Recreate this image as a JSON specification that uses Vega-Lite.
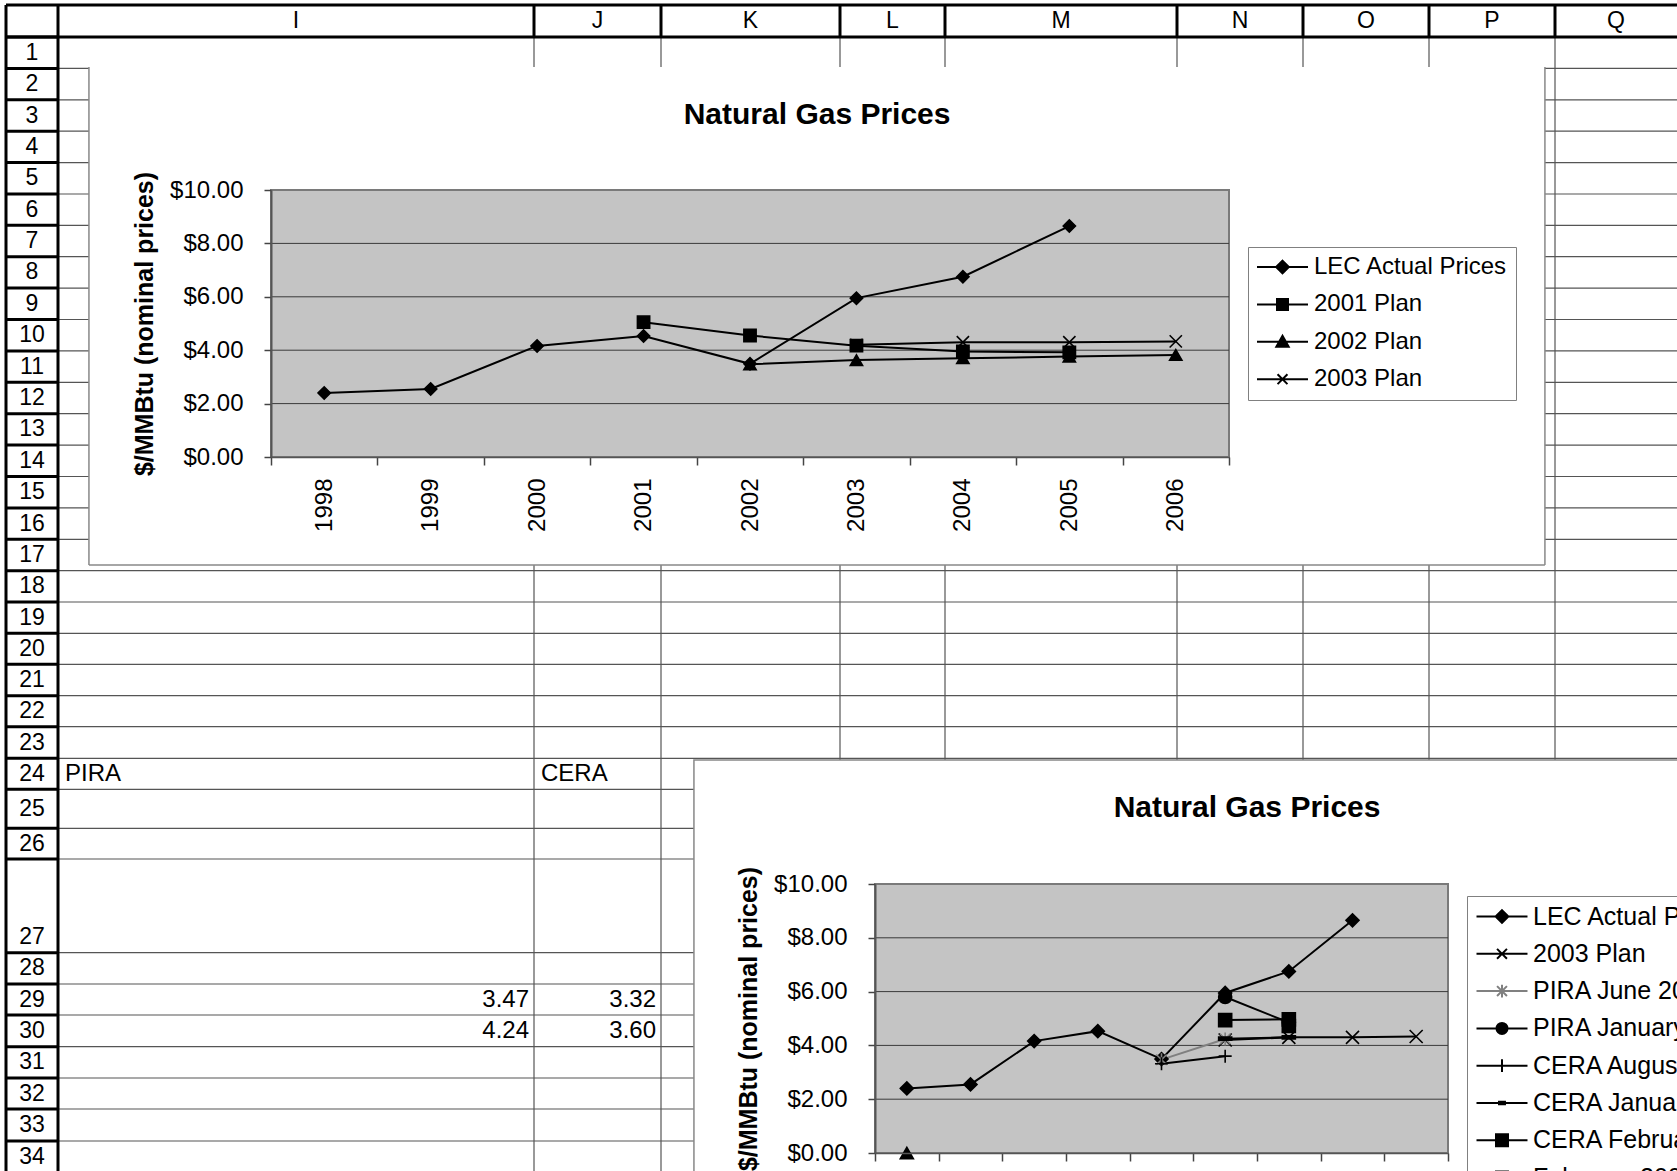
{
"$schema": "https://vega.github.io/schema/vega-lite/v6.json",
"width": 1677, "height": 1171, "padding": 0, "autosize": {"type": "none"},
"background": "white",
"config": {"view": {"stroke": null}, "font": "Liberation Sans"},
"datasets": {
 "sheetCols": [{"col":9,"letter":"I"},{"col":10,"letter":"J"},{"col":11,"letter":"K"},{"col":12,"letter":"L"},{"col":13,"letter":"M"},{"col":14,"letter":"N"},{"col":15,"letter":"O"},{"col":16,"letter":"P"},{"col":17,"letter":"Q"}],
 "sheetRows": [{"row":1},{"row":2},{"row":3},{"row":4},{"row":5},{"row":6},{"row":7},{"row":8},{"row":9},{"row":10},{"row":11},{"row":12},{"row":13},{"row":14},{"row":15},{"row":16},{"row":17},{"row":18},{"row":19},{"row":20},{"row":21},{"row":22},{"row":23},{"row":24},{"row":25},{"row":26},{"row":27},{"row":28},{"row":29},{"row":30},{"row":31},{"row":32},{"row":33},{"row":34}],
 "cellText": [{"col":9,"row":24,"text":"PIRA"},{"col":10,"row":24,"text":"CERA"}],
 "cellNumbers": [{"col":9,"row":29,"value":3.47},{"col":10,"row":29,"value":3.32},{"col":9,"row":30,"value":4.24},{"col":10,"row":30,"value":3.6}],
 "gridLevels": [{"level":2},{"level":4},{"level":6},{"level":8}],
 "prices": [
  {"chart":"top","series":"LEC Actual Prices","year":1998,"price":2.4},
  {"chart":"top","series":"LEC Actual Prices","year":1999,"price":2.55},
  {"chart":"top","series":"LEC Actual Prices","year":2000,"price":4.16},
  {"chart":"top","series":"LEC Actual Prices","year":2001,"price":4.53},
  {"chart":"top","series":"LEC Actual Prices","year":2002,"price":3.49},
  {"chart":"top","series":"LEC Actual Prices","year":2003,"price":5.95},
  {"chart":"top","series":"LEC Actual Prices","year":2004,"price":6.75},
  {"chart":"top","series":"LEC Actual Prices","year":2005,"price":8.65},
  {"chart":"top","series":"2001 Plan","year":2001,"price":5.05},
  {"chart":"top","series":"2001 Plan","year":2002,"price":4.55},
  {"chart":"top","series":"2001 Plan","year":2003,"price":4.17},
  {"chart":"top","series":"2001 Plan","year":2004,"price":3.95},
  {"chart":"top","series":"2001 Plan","year":2005,"price":3.92},
  {"chart":"top","series":"2002 Plan","year":2002,"price":3.47},
  {"chart":"top","series":"2002 Plan","year":2003,"price":3.63},
  {"chart":"top","series":"2002 Plan","year":2004,"price":3.7},
  {"chart":"top","series":"2002 Plan","year":2005,"price":3.76},
  {"chart":"top","series":"2002 Plan","year":2006,"price":3.82},
  {"chart":"top","series":"2003 Plan","year":2003,"price":4.2},
  {"chart":"top","series":"2003 Plan","year":2004,"price":4.3},
  {"chart":"top","series":"2003 Plan","year":2005,"price":4.3},
  {"chart":"top","series":"2003 Plan","year":2006,"price":4.33},
  {"chart":"bottom","series":"LEC Actual Prices","year":1998,"price":2.4},
  {"chart":"bottom","series":"LEC Actual Prices","year":1999,"price":2.55},
  {"chart":"bottom","series":"LEC Actual Prices","year":2000,"price":4.16},
  {"chart":"bottom","series":"LEC Actual Prices","year":2001,"price":4.53},
  {"chart":"bottom","series":"LEC Actual Prices","year":2002,"price":3.49},
  {"chart":"bottom","series":"LEC Actual Prices","year":2003,"price":5.95},
  {"chart":"bottom","series":"LEC Actual Prices","year":2004,"price":6.75},
  {"chart":"bottom","series":"LEC Actual Prices","year":2005,"price":8.65},
  {"chart":"bottom","series":"2003 Plan","year":2003,"price":4.2},
  {"chart":"bottom","series":"2003 Plan","year":2004,"price":4.3},
  {"chart":"bottom","series":"2003 Plan","year":2005,"price":4.3},
  {"chart":"bottom","series":"2003 Plan","year":2006,"price":4.33},
  {"chart":"bottom","series":"PIRA June 2002","year":2002,"price":3.47},
  {"chart":"bottom","series":"PIRA June 2002","year":2003,"price":4.24},
  {"chart":"bottom","series":"PIRA January 2003","year":2003,"price":5.8},
  {"chart":"bottom","series":"PIRA January 2003","year":2004,"price":4.85},
  {"chart":"bottom","series":"CERA August 2002","year":2002,"price":3.32},
  {"chart":"bottom","series":"CERA August 2002","year":2003,"price":3.6},
  {"chart":"bottom","series":"CERA January 2003","year":2003,"price":4.25},
  {"chart":"bottom","series":"CERA January 2003","year":2004,"price":4.3},
  {"chart":"bottom","series":"CERA February 2003","year":2003,"price":4.94},
  {"chart":"bottom","series":"CERA February 2003","year":2004,"price":4.97},
  {"chart":"bottom","series":"February 2003 Plan","year":2004,"price":4.72},
  {"chart":"bottom","series":"2002 Plan","year":1998,"price":0}
 ]
},
"layer": [
 {"data":{"name":"sheetRows"},"mark":{"type":"rule","stroke":"#555555","strokeWidth":1.2},
  "encoding":{"y":{"field":"row","type":"quantitative","scale":{"domain":[0,1,2,3,4,5,6,7,8,9,10,11,12,13,14,15,16,17,18,19,20,21,22,23,24,25,26,27,28,29,30,31,32,33,34,35],"range":[5,37,68.4,99.8,131.2,162.6,194,225.3,256.7,288.1,319.5,350.9,382.3,413.7,445.1,476.5,507.9,539.3,570.7,602,633.3,664.3,695.7,726.7,758.3,789.3,828.3,859,952.7,984,1015,1046.7,1078,1109,1141,1172],"zero":false,"nice":false},"axis":null},
   "x":{"datum":9,"type":"quantitative","scale":{"domain":[8,9,10,11,12,13,14,15,16,17,18],"range":[6,58,534,661,840,945,1177,1303,1429,1555,1677],"zero":false,"nice":false},"axis":null},"x2":{"datum":18}}},
 {"data":{"name":"sheetRows"},"mark":{"type":"rule","stroke":"black","strokeWidth":3},
  "encoding":{"y":{"field":"row","type":"quantitative","scale":{"domain":[0,1,2,3,4,5,6,7,8,9,10,11,12,13,14,15,16,17,18,19,20,21,22,23,24,25,26,27,28,29,30,31,32,33,34,35],"range":[5,37,68.4,99.8,131.2,162.6,194,225.3,256.7,288.1,319.5,350.9,382.3,413.7,445.1,476.5,507.9,539.3,570.7,602,633.3,664.3,695.7,726.7,758.3,789.3,828.3,859,952.7,984,1015,1046.7,1078,1109,1141,1172],"zero":false,"nice":false},"axis":null},
   "x":{"datum":8,"type":"quantitative","scale":{"domain":[8,9,10,11,12,13,14,15,16,17,18],"range":[6,58,534,661,840,945,1177,1303,1429,1555,1677],"zero":false,"nice":false},"axis":null},"x2":{"datum":9}}},
 {"data":{"name":"sheetCols"},"transform":[{"filter":"datum.col >= 10"}],"mark":{"type":"rule","stroke":"#555555","strokeWidth":1.2},
  "encoding":{"x":{"field":"col","type":"quantitative","scale":{"domain":[8,9,10,11,12,13,14,15,16,17,18],"range":[6,58,534,661,840,945,1177,1303,1429,1555,1677],"zero":false,"nice":false},"axis":null},
   "y":{"datum":1,"type":"quantitative","scale":{"domain":[0,1,2,3,4,5,6,7,8,9,10,11,12,13,14,15,16,17,18,19,20,21,22,23,24,25,26,27,28,29,30,31,32,33,34,35],"range":[5,37,68.4,99.8,131.2,162.6,194,225.3,256.7,288.1,319.5,350.9,382.3,413.7,445.1,476.5,507.9,539.3,570.7,602,633.3,664.3,695.7,726.7,758.3,789.3,828.3,859,952.7,984,1015,1046.7,1078,1109,1141,1172],"zero":false,"nice":false},"axis":null},"y2":{"datum":35}}},
 {"data":{"name":"sheetCols"},"transform":[{"filter":"datum.col >= 10"}],"mark":{"type":"rule","stroke":"black","strokeWidth":3},
  "encoding":{"x":{"field":"col","type":"quantitative","scale":{"domain":[8,9,10,11,12,13,14,15,16,17,18],"range":[6,58,534,661,840,945,1177,1303,1429,1555,1677],"zero":false,"nice":false},"axis":null},
   "y":{"datum":0,"type":"quantitative","scale":{"domain":[0,1,2,3,4,5,6,7,8,9,10,11,12,13,14,15,16,17,18,19,20,21,22,23,24,25,26,27,28,29,30,31,32,33,34,35],"range":[5,37,68.4,99.8,131.2,162.6,194,225.3,256.7,288.1,319.5,350.9,382.3,413.7,445.1,476.5,507.9,539.3,570.7,602,633.3,664.3,695.7,726.7,758.3,789.3,828.3,859,952.7,984,1015,1046.7,1078,1109,1141,1172],"zero":false,"nice":false},"axis":null},"y2":{"datum":1}}},
 {"data":{"values":[{}]},"mark":{"type":"rule","stroke":"black","strokeWidth":3},
  "encoding":{"y":{"datum":0,"type":"quantitative","scale":{"domain":[0,1,2,3,4,5,6,7,8,9,10,11,12,13,14,15,16,17,18,19,20,21,22,23,24,25,26,27,28,29,30,31,32,33,34,35],"range":[5,37,68.4,99.8,131.2,162.6,194,225.3,256.7,288.1,319.5,350.9,382.3,413.7,445.1,476.5,507.9,539.3,570.7,602,633.3,664.3,695.7,726.7,758.3,789.3,828.3,859,952.7,984,1015,1046.7,1078,1109,1141,1172],"zero":false,"nice":false},"axis":null},
   "x":{"datum":8,"type":"quantitative","scale":{"domain":[8,9,10,11,12,13,14,15,16,17,18],"range":[6,58,534,661,840,945,1177,1303,1429,1555,1677],"zero":false,"nice":false},"axis":null},"x2":{"datum":18}}},
 {"data":{"values":[{}]},"mark":{"type":"rule","stroke":"black","strokeWidth":3},
  "encoding":{"y":{"datum":1,"type":"quantitative","scale":{"domain":[0,1,2,3,4,5,6,7,8,9,10,11,12,13,14,15,16,17,18,19,20,21,22,23,24,25,26,27,28,29,30,31,32,33,34,35],"range":[5,37,68.4,99.8,131.2,162.6,194,225.3,256.7,288.1,319.5,350.9,382.3,413.7,445.1,476.5,507.9,539.3,570.7,602,633.3,664.3,695.7,726.7,758.3,789.3,828.3,859,952.7,984,1015,1046.7,1078,1109,1141,1172],"zero":false,"nice":false},"axis":null},
   "x":{"datum":8,"type":"quantitative","scale":{"domain":[8,9,10,11,12,13,14,15,16,17,18],"range":[6,58,534,661,840,945,1177,1303,1429,1555,1677],"zero":false,"nice":false},"axis":null},"x2":{"datum":18}}},
 {"data":{"values":[{}]},"mark":{"type":"rule","stroke":"black","strokeWidth":3},
  "encoding":{"x":{"datum":8,"type":"quantitative","scale":{"domain":[8,9,10,11,12,13,14,15,16,17,18],"range":[6,58,534,661,840,945,1177,1303,1429,1555,1677],"zero":false,"nice":false},"axis":null},
   "y":{"datum":0,"type":"quantitative","scale":{"domain":[0,1,2,3,4,5,6,7,8,9,10,11,12,13,14,15,16,17,18,19,20,21,22,23,24,25,26,27,28,29,30,31,32,33,34,35],"range":[5,37,68.4,99.8,131.2,162.6,194,225.3,256.7,288.1,319.5,350.9,382.3,413.7,445.1,476.5,507.9,539.3,570.7,602,633.3,664.3,695.7,726.7,758.3,789.3,828.3,859,952.7,984,1015,1046.7,1078,1109,1141,1172],"zero":false,"nice":false},"axis":null},"y2":{"datum":35}}},
 {"data":{"values":[{}]},"mark":{"type":"rule","stroke":"black","strokeWidth":3},
  "encoding":{"x":{"datum":9,"type":"quantitative","scale":{"domain":[8,9,10,11,12,13,14,15,16,17,18],"range":[6,58,534,661,840,945,1177,1303,1429,1555,1677],"zero":false,"nice":false},"axis":null},
   "y":{"datum":0,"type":"quantitative","scale":{"domain":[0,1,2,3,4,5,6,7,8,9,10,11,12,13,14,15,16,17,18,19,20,21,22,23,24,25,26,27,28,29,30,31,32,33,34,35],"range":[5,37,68.4,99.8,131.2,162.6,194,225.3,256.7,288.1,319.5,350.9,382.3,413.7,445.1,476.5,507.9,539.3,570.7,602,633.3,664.3,695.7,726.7,758.3,789.3,828.3,859,952.7,984,1015,1046.7,1078,1109,1141,1172],"zero":false,"nice":false},"axis":null},"y2":{"datum":35}}},
 {"data":{"name":"sheetCols"},"mark":{"type":"text","fontSize":23,"align":"center","baseline":"middle","color":"black"},
  "encoding":{"x":{"field":"col","type":"quantitative","scale":{"domain":[9,10,11,12,13,14,15,16,17],"range":[296,597.5,750.5,892.5,1061,1240,1366,1492,1616],"zero":false,"nice":false},"axis":null},
   "y":{"datum":0.5,"type":"quantitative","scale":{"domain":[0,1,2,3,4,5,6,7,8,9,10,11,12,13,14,15,16,17,18,19,20,21,22,23,24,25,26,27,28,29,30,31,32,33,34,35],"range":[5,37,68.4,99.8,131.2,162.6,194,225.3,256.7,288.1,319.5,350.9,382.3,413.7,445.1,476.5,507.9,539.3,570.7,602,633.3,664.3,695.7,726.7,758.3,789.3,828.3,859,952.7,984,1015,1046.7,1078,1109,1141,1172],"zero":false,"nice":false},"axis":null},
   "text":{"field":"letter","type":"nominal"}}},
 {"data":{"name":"sheetRows"},"mark":{"type":"text","fontSize":23,"align":"center","baseline":"middle","color":"black"},
  "encoding":{"x":{"datum":8.5,"type":"quantitative","scale":{"domain":[8,9,10,11,12,13,14,15,16,17,18],"range":[6,58,534,661,840,945,1177,1303,1429,1555,1677],"zero":false,"nice":false},"axis":null},
   "y":{"field":"row","type":"quantitative","scale":{"domain":[1,2,3,4,5,6,7,8,9,10,11,12,13,14,15,16,17,18,19,20,21,22,23,24,25,26,27,28,29,30,31,32,33,34],"range":[52.7,84.1,115.5,146.9,178.3,209.6,241,272.4,303.8,335.2,366.6,398,429.4,460.8,492.2,523.6,555,586.4,617.7,648.8,680,711.2,742.5,773.8,808.8,843.7,937,968.4,999.5,1030.9,1062.4,1093.5,1125,1156.5],"zero":false,"nice":false},"axis":null},
   "text":{"field":"row","type":"nominal"}}},
 {"data":{"name":"cellText"},"mark":{"type":"text","fontSize":24,"align":"left","baseline":"middle","dx":7,"color":"black"},
  "encoding":{"x":{"field":"col","type":"quantitative","scale":{"domain":[8,9,10,11,12,13,14,15,16,17,18],"range":[6,58,534,661,840,945,1177,1303,1429,1555,1677],"zero":false,"nice":false},"axis":null},
   "y":{"field":"row","type":"quantitative","scale":{"domain":[1,2,3,4,5,6,7,8,9,10,11,12,13,14,15,16,17,18,19,20,21,22,23,24,25,26,27,28,29,30,31,32,33,34],"range":[52.7,84.1,115.5,146.9,178.3,209.6,241,272.4,303.8,335.2,366.6,398,429.4,460.8,492.2,523.6,555,586.4,617.7,648.8,680,711.2,742.5,773.8,808.8,843.7,937,968.4,999.5,1030.9,1062.4,1093.5,1125,1156.5],"zero":false,"nice":false},"axis":null},
   "text":{"field":"text","type":"nominal"}}},
 {"data":{"name":"cellNumbers"},"mark":{"type":"text","fontSize":24,"align":"right","baseline":"middle","dx":-5,"color":"black"},
  "encoding":{"x":{"field":"col","type":"quantitative","scale":{"domain":[9,10,11,12,13,14,15,16,17],"range":[534,661,840,945,1177,1303,1429,1555,1677],"zero":false,"nice":false},"axis":null},
   "y":{"field":"row","type":"quantitative","scale":{"domain":[1,2,3,4,5,6,7,8,9,10,11,12,13,14,15,16,17,18,19,20,21,22,23,24,25,26,27,28,29,30,31,32,33,34],"range":[52.7,84.1,115.5,146.9,178.3,209.6,241,272.4,303.8,335.2,366.6,398,429.4,460.8,492.2,523.6,555,586.4,617.7,648.8,680,711.2,742.5,773.8,808.8,843.7,937,968.4,999.5,1030.9,1062.4,1093.5,1125,1156.5],"zero":false,"nice":false},"axis":null},
   "text":{"field":"value","type":"quantitative","format":".2f"}}},

 {"data":{"values":[{}]},"mark":{"type":"rect","fill":"white"},
  "encoding":{"x":{"datum":9.065,"type":"quantitative","scale":{"domain":[8,9,10,11,12,13,14,15,16,17,18],"range":[6,58,534,661,840,945,1177,1303,1429,1555,1677],"zero":false,"nice":false},"axis":null},"x2":{"datum":16.92},
   "y":{"datum":1.955,"type":"quantitative","scale":{"domain":[0,1,2,3,4,5,6,7,8,9,10,11,12,13,14,15,16,17,18,19,20,21,22,23,24,25,26,27,28,29,30,31,32,33,34,35],"range":[5,37,68.4,99.8,131.2,162.6,194,225.3,256.7,288.1,319.5,350.9,382.3,413.7,445.1,476.5,507.9,539.3,570.7,602,633.3,664.3,695.7,726.7,758.3,789.3,828.3,859,952.7,984,1015,1046.7,1078,1109,1141,1172],"zero":false,"nice":false},"axis":null},"y2":{"datum":17.818}}},
 {"data":{"values":[{}]},"mark":{"type":"rule","stroke":"#888888","strokeWidth":1.5},
  "encoding":{"x":{"datum":9.065,"type":"quantitative","scale":{"domain":[8,9,10,11,12,13,14,15,16,17,18],"range":[6,58,534,661,840,945,1177,1303,1429,1555,1677],"zero":false,"nice":false},"axis":null},
   "y":{"datum":1.955,"type":"quantitative","scale":{"domain":[0,1,2,3,4,5,6,7,8,9,10,11,12,13,14,15,16,17,18,19,20,21,22,23,24,25,26,27,28,29,30,31,32,33,34,35],"range":[5,37,68.4,99.8,131.2,162.6,194,225.3,256.7,288.1,319.5,350.9,382.3,413.7,445.1,476.5,507.9,539.3,570.7,602,633.3,664.3,695.7,726.7,758.3,789.3,828.3,859,952.7,984,1015,1046.7,1078,1109,1141,1172],"zero":false,"nice":false},"axis":null},"y2":{"datum":17.818}}},
 {"data":{"values":[{}]},"mark":{"type":"rule","stroke":"#888888","strokeWidth":1.5},
  "encoding":{"x":{"datum":16.92,"type":"quantitative","scale":{"domain":[8,9,10,11,12,13,14,15,16,17,18],"range":[6,58,534,661,840,945,1177,1303,1429,1555,1677],"zero":false,"nice":false},"axis":null},
   "y":{"datum":1.955,"type":"quantitative","scale":{"domain":[0,1,2,3,4,5,6,7,8,9,10,11,12,13,14,15,16,17,18,19,20,21,22,23,24,25,26,27,28,29,30,31,32,33,34,35],"range":[5,37,68.4,99.8,131.2,162.6,194,225.3,256.7,288.1,319.5,350.9,382.3,413.7,445.1,476.5,507.9,539.3,570.7,602,633.3,664.3,695.7,726.7,758.3,789.3,828.3,859,952.7,984,1015,1046.7,1078,1109,1141,1172],"zero":false,"nice":false},"axis":null},"y2":{"datum":17.818}}},
 {"data":{"values":[{}]},"mark":{"type":"rule","stroke":"#888888","strokeWidth":1.5},
  "encoding":{"y":{"datum":17.818,"type":"quantitative","scale":{"domain":[0,1,2,3,4,5,6,7,8,9,10,11,12,13,14,15,16,17,18,19,20,21,22,23,24,25,26,27,28,29,30,31,32,33,34,35],"range":[5,37,68.4,99.8,131.2,162.6,194,225.3,256.7,288.1,319.5,350.9,382.3,413.7,445.1,476.5,507.9,539.3,570.7,602,633.3,664.3,695.7,726.7,758.3,789.3,828.3,859,952.7,984,1015,1046.7,1078,1109,1141,1172],"zero":false,"nice":false},"axis":null},
   "x":{"datum":9.065,"type":"quantitative","scale":{"domain":[8,9,10,11,12,13,14,15,16,17,18],"range":[6,58,534,661,840,945,1177,1303,1429,1555,1677],"zero":false,"nice":false},"axis":null},"x2":{"datum":16.92}}},
 {"data":{"values":[{}]},"mark":{"type":"text","text":"Natural Gas Prices","fontSize":30,"fontWeight":"bold","align":"center","baseline":"middle","color":"black"},
  "encoding":{"x":{"datum":11.872,"type":"quantitative","scale":{"domain":[8,9,10,11,12,13,14,15,16,17,18],"range":[6,58,534,661,840,945,1177,1303,1429,1555,1677],"zero":false,"nice":false},"axis":null},
   "y":{"datum":3.48,"type":"quantitative","scale":{"domain":[0,1,2,3,4,5,6,7,8,9,10,11,12,13,14,15,16,17,18,19,20,21,22,23,24,25,26,27,28,29,30,31,32,33,34,35],"range":[5,37,68.4,99.8,131.2,162.6,194,225.3,256.7,288.1,319.5,350.9,382.3,413.7,445.1,476.5,507.9,539.3,570.7,602,633.3,664.3,695.7,726.7,758.3,789.3,828.3,859,952.7,984,1015,1046.7,1078,1109,1141,1172],"zero":false,"nice":false},"axis":null}}},
 {"data":{"values":[{}]},"mark":{"type":"rect","fill":"#c4c4c4","stroke":"#7a7a7a","strokeWidth":2},
  "encoding":{"x":{"datum":0,"type":"quantitative","scale":{"domain":[0,1],"range":[271,1229],"zero":false,"nice":false},"axis":null},"x2":{"datum":1},
   "y":{"datum":0,"type":"quantitative","scale":{"domain":[0,10],"range":[457,190],"zero":false,"nice":false},"axis":null},"y2":{"datum":10}}},
 {"data":{"name":"gridLevels"},"mark":{"type":"rule","stroke":"#3a3a3a","strokeWidth":1},
  "encoding":{"x":{"datum":0,"type":"quantitative","scale":{"domain":[0,1],"range":[271,1229],"zero":false,"nice":false},"axis":null},"x2":{"datum":1},
   "y":{"field":"level","type":"quantitative","scale":{"domain":[0,10],"range":[457,190],"zero":false,"nice":false},"axis":null}}},
 {"data":{"name":"prices"},"transform":[{"filter":"datum.chart === 'top'"}],"mark":{"type":"line","strokeWidth":2},
  "encoding":{"x":{"field":"year","type":"ordinal","scale":{"type":"band","domain":[1998,1999,2000,2001,2002,2003,2004,2005,2006],"range":[271,1229],"paddingInner":0,"paddingOuter":0},
     "axis":{"orient":"bottom","offset":-714,"labelAngle":-90,"labelFontSize":24,"labelColor":"black","labelPadding":13,"tickSize":8,"tickColor":"#444444","tickWidth":1.5,"tickBand":"extent","domainColor":"#555555","domainWidth":1.5,"title":null,"grid":false,"labelOverlap":false,"zindex":1}},
   "y":{"field":"price","type":"quantitative","scale":{"domain":[0,10],"range":[457,190],"zero":false,"nice":false},
     "axis":{"orient":"left","offset":-271,"values":[0,2,4,6,8,10],"format":"$.2f","labelFontSize":24,"labelColor":"black","labelPadding":21,"tickSize":7,"tickColor":"#444444","tickWidth":1.5,"domainColor":"#555555","domainWidth":2,"title":"$/MMBtu (nominal prices)","titleFontSize":25,"titleFontWeight":"bold","titleColor":"black","titlePadding":12,"grid":false,"labelOverlap":false,"zindex":1}},
   "stroke":{"field":"series","type":"nominal","scale":{"domain":["LEC Actual Prices","2001 Plan","2002 Plan","2003 Plan"],"range":["black","black","black","black"]},"legend":null}}},
 {"data":{"name":"prices"},"transform":[{"filter":"datum.chart === 'top'"}],"mark":{"type":"point","filled":true,"fill":"black","stroke":"black","strokeWidth":1.6,"size":150,"opacity":1},
  "encoding":{"x":{"field":"year","type":"ordinal","scale":{"type":"band","domain":[1998,1999,2000,2001,2002,2003,2004,2005,2006],"range":[271,1229],"paddingInner":0,"paddingOuter":0},"axis":null},
   "y":{"field":"price","type":"quantitative","scale":{"domain":[0,10],"range":[457,190],"zero":false,"nice":false},"axis":null},
   "shape":{"field":"series","type":"nominal","scale":{"domain":["LEC Actual Prices","2001 Plan","2002 Plan","2003 Plan"],"range":["diamond","square","triangle-up","M-1,-1L1,1M-1,1L1,-1"]},"legend":null}}},
 {"data":{"name":"prices"},"transform":[{"filter":"datum.chart === 'top'"}],"mark":{"type":"point","filled":true,"fill":"black","strokeWidth":2,"size":484,"opacity":0},
  "encoding":{"shape":{"field":"series","type":"nominal","scale":{"domain":["LEC Actual Prices","2001 Plan","2002 Plan","2003 Plan"],"range":["M-1,0H3.636M1.318,-0.58L1.898,0L1.318,0.58L0.738,0Z","M-1,0H3.636M0.818,-0.5H1.818V0.5H0.818Z","M-1,0H3.636M1.318,-0.55L1.88,0.45H0.756Z","M-1,0H3.636M0.868,-0.45L1.768,0.45M0.868,0.45L1.768,-0.45"]},
    "legend":{"orient":"none","legendX":1248,"legendY":247,"title":null,"direction":"vertical","columns":1,"padding":8,"rowPadding":13.4,"labelOffset":34,"labelFontSize":24,"labelColor":"black","labelLimit":600,"symbolSize":484,"symbolStrokeWidth":2,"symbolFillColor":"black","symbolOpacity":1,"strokeColor":"#808080","fillColor":"white","cornerRadius":0,"zindex":1}},
   "stroke":{"field":"series","type":"nominal","scale":{"domain":["LEC Actual Prices","2001 Plan","2002 Plan","2003 Plan"],"range":["black","black","black","black"]},
    "legend":{"orient":"none","legendX":1248,"legendY":247,"title":null,"direction":"vertical","columns":1,"padding":8,"rowPadding":13.4,"labelOffset":34,"labelFontSize":24,"labelColor":"black","labelLimit":600,"symbolSize":484,"symbolStrokeWidth":2,"symbolFillColor":"black","symbolOpacity":1,"strokeColor":"#808080","fillColor":"white","cornerRadius":0,"zindex":1}}}},

 {"data":{"values":[{}]},"mark":{"type":"rect","fill":"white","stroke":"#888888","strokeWidth":1.5},
  "encoding":{"x":{"datum":11.184,"type":"quantitative","scale":{"domain":[8,9,10,11,12,13,14,15,16,17,18],"range":[6,58,534,661,840,945,1177,1303,1429,1555,1677],"zero":false,"nice":false},"axis":null},"x2":{"datum":19.5},
   "y":{"datum":24.055,"type":"quantitative","scale":{"domain":[0,1,2,3,4,5,6,7,8,9,10,11,12,13,14,15,16,17,18,19,20,21,22,23,24,25,26,27,28,29,30,31,32,33,34,35],"range":[5,37,68.4,99.8,131.2,162.6,194,225.3,256.7,288.1,319.5,350.9,382.3,413.7,445.1,476.5,507.9,539.3,570.7,602,633.3,664.3,695.7,726.7,758.3,789.3,828.3,859,952.7,984,1015,1046.7,1078,1109,1141,1172],"zero":false,"nice":false},"axis":null},"y2":{"datum":37}}},
 {"data":{"values":[{}]},"mark":{"type":"text","text":"Natural Gas Prices","fontSize":30,"fontWeight":"bold","align":"center","baseline":"middle","color":"black"},
  "encoding":{"x":{"datum":14.556,"type":"quantitative","scale":{"domain":[8,9,10,11,12,13,14,15,16,17,18],"range":[6,58,534,661,840,945,1177,1303,1429,1555,1677],"zero":false,"nice":false},"axis":null},
   "y":{"datum":25.47,"type":"quantitative","scale":{"domain":[0,1,2,3,4,5,6,7,8,9,10,11,12,13,14,15,16,17,18,19,20,21,22,23,24,25,26,27,28,29,30,31,32,33,34,35],"range":[5,37,68.4,99.8,131.2,162.6,194,225.3,256.7,288.1,319.5,350.9,382.3,413.7,445.1,476.5,507.9,539.3,570.7,602,633.3,664.3,695.7,726.7,758.3,789.3,828.3,859,952.7,984,1015,1046.7,1078,1109,1141,1172],"zero":false,"nice":false},"axis":null}}},
 {"data":{"values":[{}]},"mark":{"type":"rect","fill":"#c4c4c4","stroke":"#7a7a7a","strokeWidth":2},
  "encoding":{"x":{"datum":0,"type":"quantitative","scale":{"domain":[0,1],"range":[875,1448],"zero":false,"nice":false},"axis":null},"x2":{"datum":1},
   "y":{"datum":0,"type":"quantitative","scale":{"domain":[0,10],"range":[1153,884],"zero":false,"nice":false},"axis":null},"y2":{"datum":10}}},
 {"data":{"name":"gridLevels"},"mark":{"type":"rule","stroke":"#3a3a3a","strokeWidth":1},
  "encoding":{"x":{"datum":0,"type":"quantitative","scale":{"domain":[0,1],"range":[875,1448],"zero":false,"nice":false},"axis":null},"x2":{"datum":1},
   "y":{"field":"level","type":"quantitative","scale":{"domain":[0,10],"range":[1153,884],"zero":false,"nice":false},"axis":null}}},
 {"data":{"name":"prices"},"transform":[{"filter":"datum.chart === 'bottom'"}],"mark":{"type":"line","strokeWidth":2},
  "encoding":{"x":{"field":"year","type":"ordinal","scale":{"type":"band","domain":[1998,1999,2000,2001,2002,2003,2004,2005,2006],"range":[875,1448],"paddingInner":0,"paddingOuter":0},
     "axis":{"orient":"bottom","offset":-18,"labelAngle":-90,"labelFontSize":24,"labelColor":"black","labelPadding":13,"tickSize":8,"tickColor":"#444444","tickWidth":1.5,"tickBand":"extent","domainColor":"#555555","domainWidth":1.5,"title":null,"grid":false,"labelOverlap":false,"zindex":1}},
   "y":{"field":"price","type":"quantitative","scale":{"domain":[0,10],"range":[1153,884],"zero":false,"nice":false},
     "axis":{"orient":"left","offset":-875,"values":[0,2,4,6,8,10],"format":"$.2f","labelFontSize":24,"labelColor":"black","labelPadding":21,"tickSize":7,"tickColor":"#444444","tickWidth":1.5,"domainColor":"#555555","domainWidth":2,"title":"$/MMBtu (nominal prices)","titleFontSize":25,"titleFontWeight":"bold","titleColor":"black","titlePadding":12,"grid":false,"labelOverlap":false,"zindex":1}},
   "stroke":{"field":"series","type":"nominal","scale":{"domain":["LEC Actual Prices","2003 Plan","PIRA June 2002","PIRA January 2003","CERA August 2002","CERA January 2003","CERA February 2003","February 2003 Plan","2002 Plan"],"range":["black","black","#808080","black","black","black","black","black","black"]},"legend":null}}},
 {"data":{"name":"prices"},"transform":[{"filter":"datum.chart === 'bottom'"}],"mark":{"type":"point","filled":true,"fill":"black","strokeWidth":1.6,"size":170,"opacity":1},
  "encoding":{"x":{"field":"year","type":"ordinal","scale":{"type":"band","domain":[1998,1999,2000,2001,2002,2003,2004,2005,2006],"range":[875,1448],"paddingInner":0,"paddingOuter":0},"axis":null},
   "y":{"field":"price","type":"quantitative","scale":{"domain":[0,10],"range":[1153,884],"zero":false,"nice":false},"axis":null},
   "shape":{"field":"series","type":"nominal","scale":{"domain":["LEC Actual Prices","2003 Plan","PIRA June 2002","PIRA January 2003","CERA August 2002","CERA January 2003","CERA February 2003","February 2003 Plan","2002 Plan"],"range":["diamond","M-1,-1L1,1M-1,1L1,-1","M-0.8,-0.8L0.8,0.8M-0.8,0.8L0.8,-0.8M0,-1V1","circle","M-1,0H1M0,-1V1","M-1,-0.25H1V0.25H-1Z","square","square","triangle-up"]},"legend":null},
   "stroke":{"field":"series","type":"nominal","scale":{"domain":["LEC Actual Prices","2003 Plan","PIRA June 2002","PIRA January 2003","CERA August 2002","CERA January 2003","CERA February 2003","February 2003 Plan","2002 Plan"],"range":["black","black","#808080","black","black","black","black","black","black"]},"legend":null}}},
 {"data":{"name":"prices"},"transform":[{"filter":"datum.chart === 'bottom'"}],"mark":{"type":"point","filled":true,"fill":"black","strokeWidth":2,"size":484,"opacity":0},
  "encoding":{"shape":{"field":"series","type":"nominal","scale":{"domain":["LEC Actual Prices","2003 Plan","PIRA June 2002","PIRA January 2003","CERA August 2002","CERA January 2003","CERA February 2003","February 2003 Plan","2002 Plan"],"range":["M-1,0H3.636M1.318,-0.58L1.898,0L1.318,0.58L0.738,0Z","M-1,0H3.636M0.868,-0.45L1.768,0.45M0.868,0.45L1.768,-0.45","M-1,0H3.636M0.868,-0.45L1.768,0.45M0.868,0.45L1.768,-0.45M1.318,-0.58V0.58","M-1,0H3.636M1.818,0A0.5,0.5,0,1,1,0.818,0A0.5,0.5,0,1,1,1.818,0Z","M-1,0H3.636M1.318,-0.58V0.58","M-1,0H3.636M1.048,-0.12H1.588V0.12H1.048Z","M-1,0H3.636M0.773,-0.545H1.863V0.545H0.773Z","M-1,0H3.636M0.773,-0.545H1.863V0.545H0.773Z","M-1,0H3.636M1.318,-0.55L1.88,0.45H0.756Z"]},
    "legend":{"orient":"none","legendX":1467,"legendY":896,"title":null,"direction":"vertical","columns":1,"padding":8,"rowPadding":11.3,"labelOffset":33,"labelFontSize":25,"labelColor":"black","labelLimit":600,"symbolSize":484,"symbolStrokeWidth":2,"symbolFillColor":"black","symbolOpacity":1,"strokeColor":"#808080","fillColor":"white","cornerRadius":0,"zindex":1}},
   "stroke":{"field":"series","type":"nominal","scale":{"domain":["LEC Actual Prices","2003 Plan","PIRA June 2002","PIRA January 2003","CERA August 2002","CERA January 2003","CERA February 2003","February 2003 Plan","2002 Plan"],"range":["black","black","#808080","black","black","black","black","black","black"]},
    "legend":{"orient":"none","legendX":1467,"legendY":896,"title":null,"direction":"vertical","columns":1,"padding":8,"rowPadding":11.3,"labelOffset":33,"labelFontSize":25,"labelColor":"black","labelLimit":600,"symbolSize":484,"symbolStrokeWidth":2,"symbolFillColor":"black","symbolOpacity":1,"strokeColor":"#808080","fillColor":"white","cornerRadius":0,"zindex":1}}}}
],
"resolve": {"scale": {"x":"independent","y":"independent","shape":"independent","stroke":"independent","fill":"independent"},"axis":{"x":"independent","y":"independent"},"legend":{"shape":"independent","stroke":"independent"}}
}
